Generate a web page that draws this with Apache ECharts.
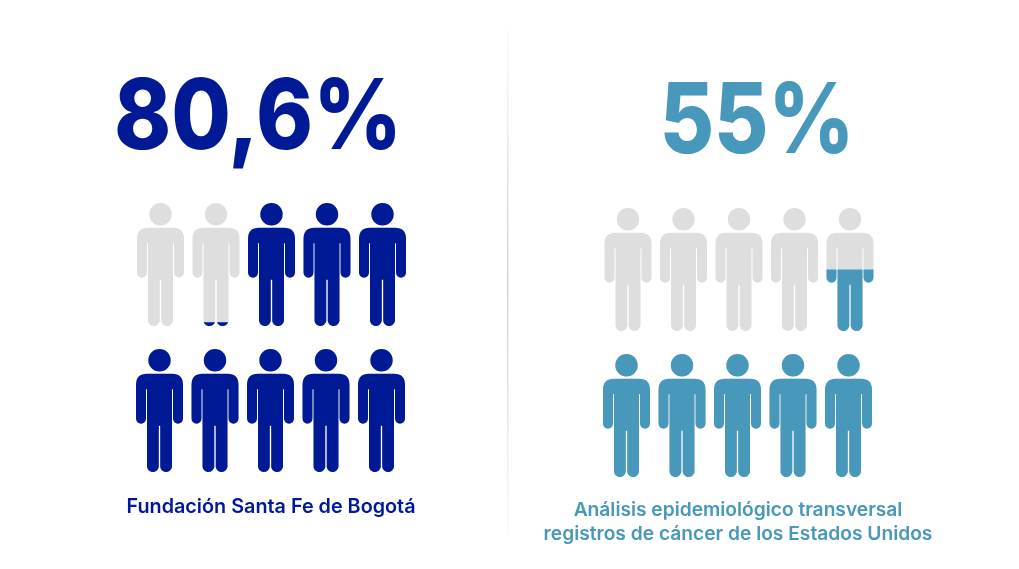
<!DOCTYPE html>
<html><head><meta charset="utf-8">
<style>html,body{margin:0;padding:0;background:#fff}#c{width:1019px;height:569px}</style>
<script src="https://cdn.jsdelivr.net/npm/echarts@6/dist/echarts.min.js"></script>
</head><body><div id="c"></div>
<script>
const people = ['1','2','3','4','5'];
const leftTop = [0, 0.03, 1, 1, 1];
const leftBottom = [1, 1, 1, 1, 1];
const rightTop = [0, 0, 0, 0, 0.5];
const rightBottom = [1, 1, 1, 1, 1];
const leftValue = '80,6%';
const rightValue = '55%';
const leftCaption = 'Fundación Santa Fe de Bogotá';
const rightCaption = 'Análisis epidemiológico transversal\nregistros de cáncer de los Estados Unidos';

const NAVY = '#001A96', TEAL = '#4898BC', GREY = '#DEDEDE';
const FONT = 'Inter, "Noto Sans", sans-serif';
const PERSON = 'path://M23.5 0A11.2 11.2 0 1 1 23.5 22.4A11.2 11.2 0 1 1 23.5 0Z' +
 'M11 24.5H36Q47 24.5 47 35.5V69A5 5 0 0 1 37 69V40H36V117A6 6 0 0 1 24.2 117V76H22.8V117A6 6 0 0 1 11 117V40H10V69A5 5 0 0 1 0 69V35.5Q0 24.5 11 24.5Z';

const rows = [
 {data:leftTop, color:NAVY, cx:271.5, top:203, step:55.5},
 {data:leftBottom, color:NAVY, cx:270.5, top:349, step:55.5},
 {data:rightTop, color:TEAL, cx:739, top:208, step:55.5},
 {data:rightBottom, color:TEAL, cx:737.5, top:354, step:55.5}
];
const grid=[],xAxis=[],yAxis=[],series=[];
rows.forEach((r,i)=>{
  grid.push({left:r.cx-2.5*r.step, width:5*r.step, top:r.top, height:123});
  xAxis.push({type:'category',gridIndex:i,data:people,show:false});
  yAxis.push({type:'value',gridIndex:i,min:0,max:1,show:false});
  const base={type:'pictorialBar',xAxisIndex:i,yAxisIndex:i,symbol:PERSON,symbolSize:[47,123],
    symbolPosition:'start',symbolBoundingData:1,barGap:'-100%',silent:true,animation:false};
  series.push(Object.assign({},base,{data:people.map(()=>1),itemStyle:{color:GREY},z:1}));
  series.push(Object.assign({},base,{data:r.data,symbolClip:true,itemStyle:{color:r.color},z:2}));
});
const txt=(x,y,text,size,color,weight,lh,sx)=>({type:'text',x,y,scaleX:sx||1,style:{text,fill:color,font:weight+' '+size+'px '+FONT,align:'center',verticalAlign:'middle',lineHeight:lh}});
const chart=echarts.init(document.getElementById('c'),null,{renderer:'canvas'});
chart.setOption({
 animation:false,backgroundColor:'#fff',grid,xAxis,yAxis,series,
 graphic:[
  {type:'rect',shape:{x:507,y:30,width:1.5,height:505},style:{fill:{type:'linear',x:0,y:0,x2:0,y2:1,colorStops:[{offset:0,color:'#fafafa'},{offset:0.5,color:'#d4d4d4'},{offset:1,color:'#fafafa'}]}}},
  txt(258,119.5,leftValue,97,NAVY,800,undefined,0.89),
  txt(757,124,rightValue,97,TEAL,800,undefined,0.86),
  txt(271,507,leftCaption,19.8,NAVY,600),
  txt(738,522,rightCaption,19.2,TEAL,600,23.5)
 ]
});
</script></body></html>
